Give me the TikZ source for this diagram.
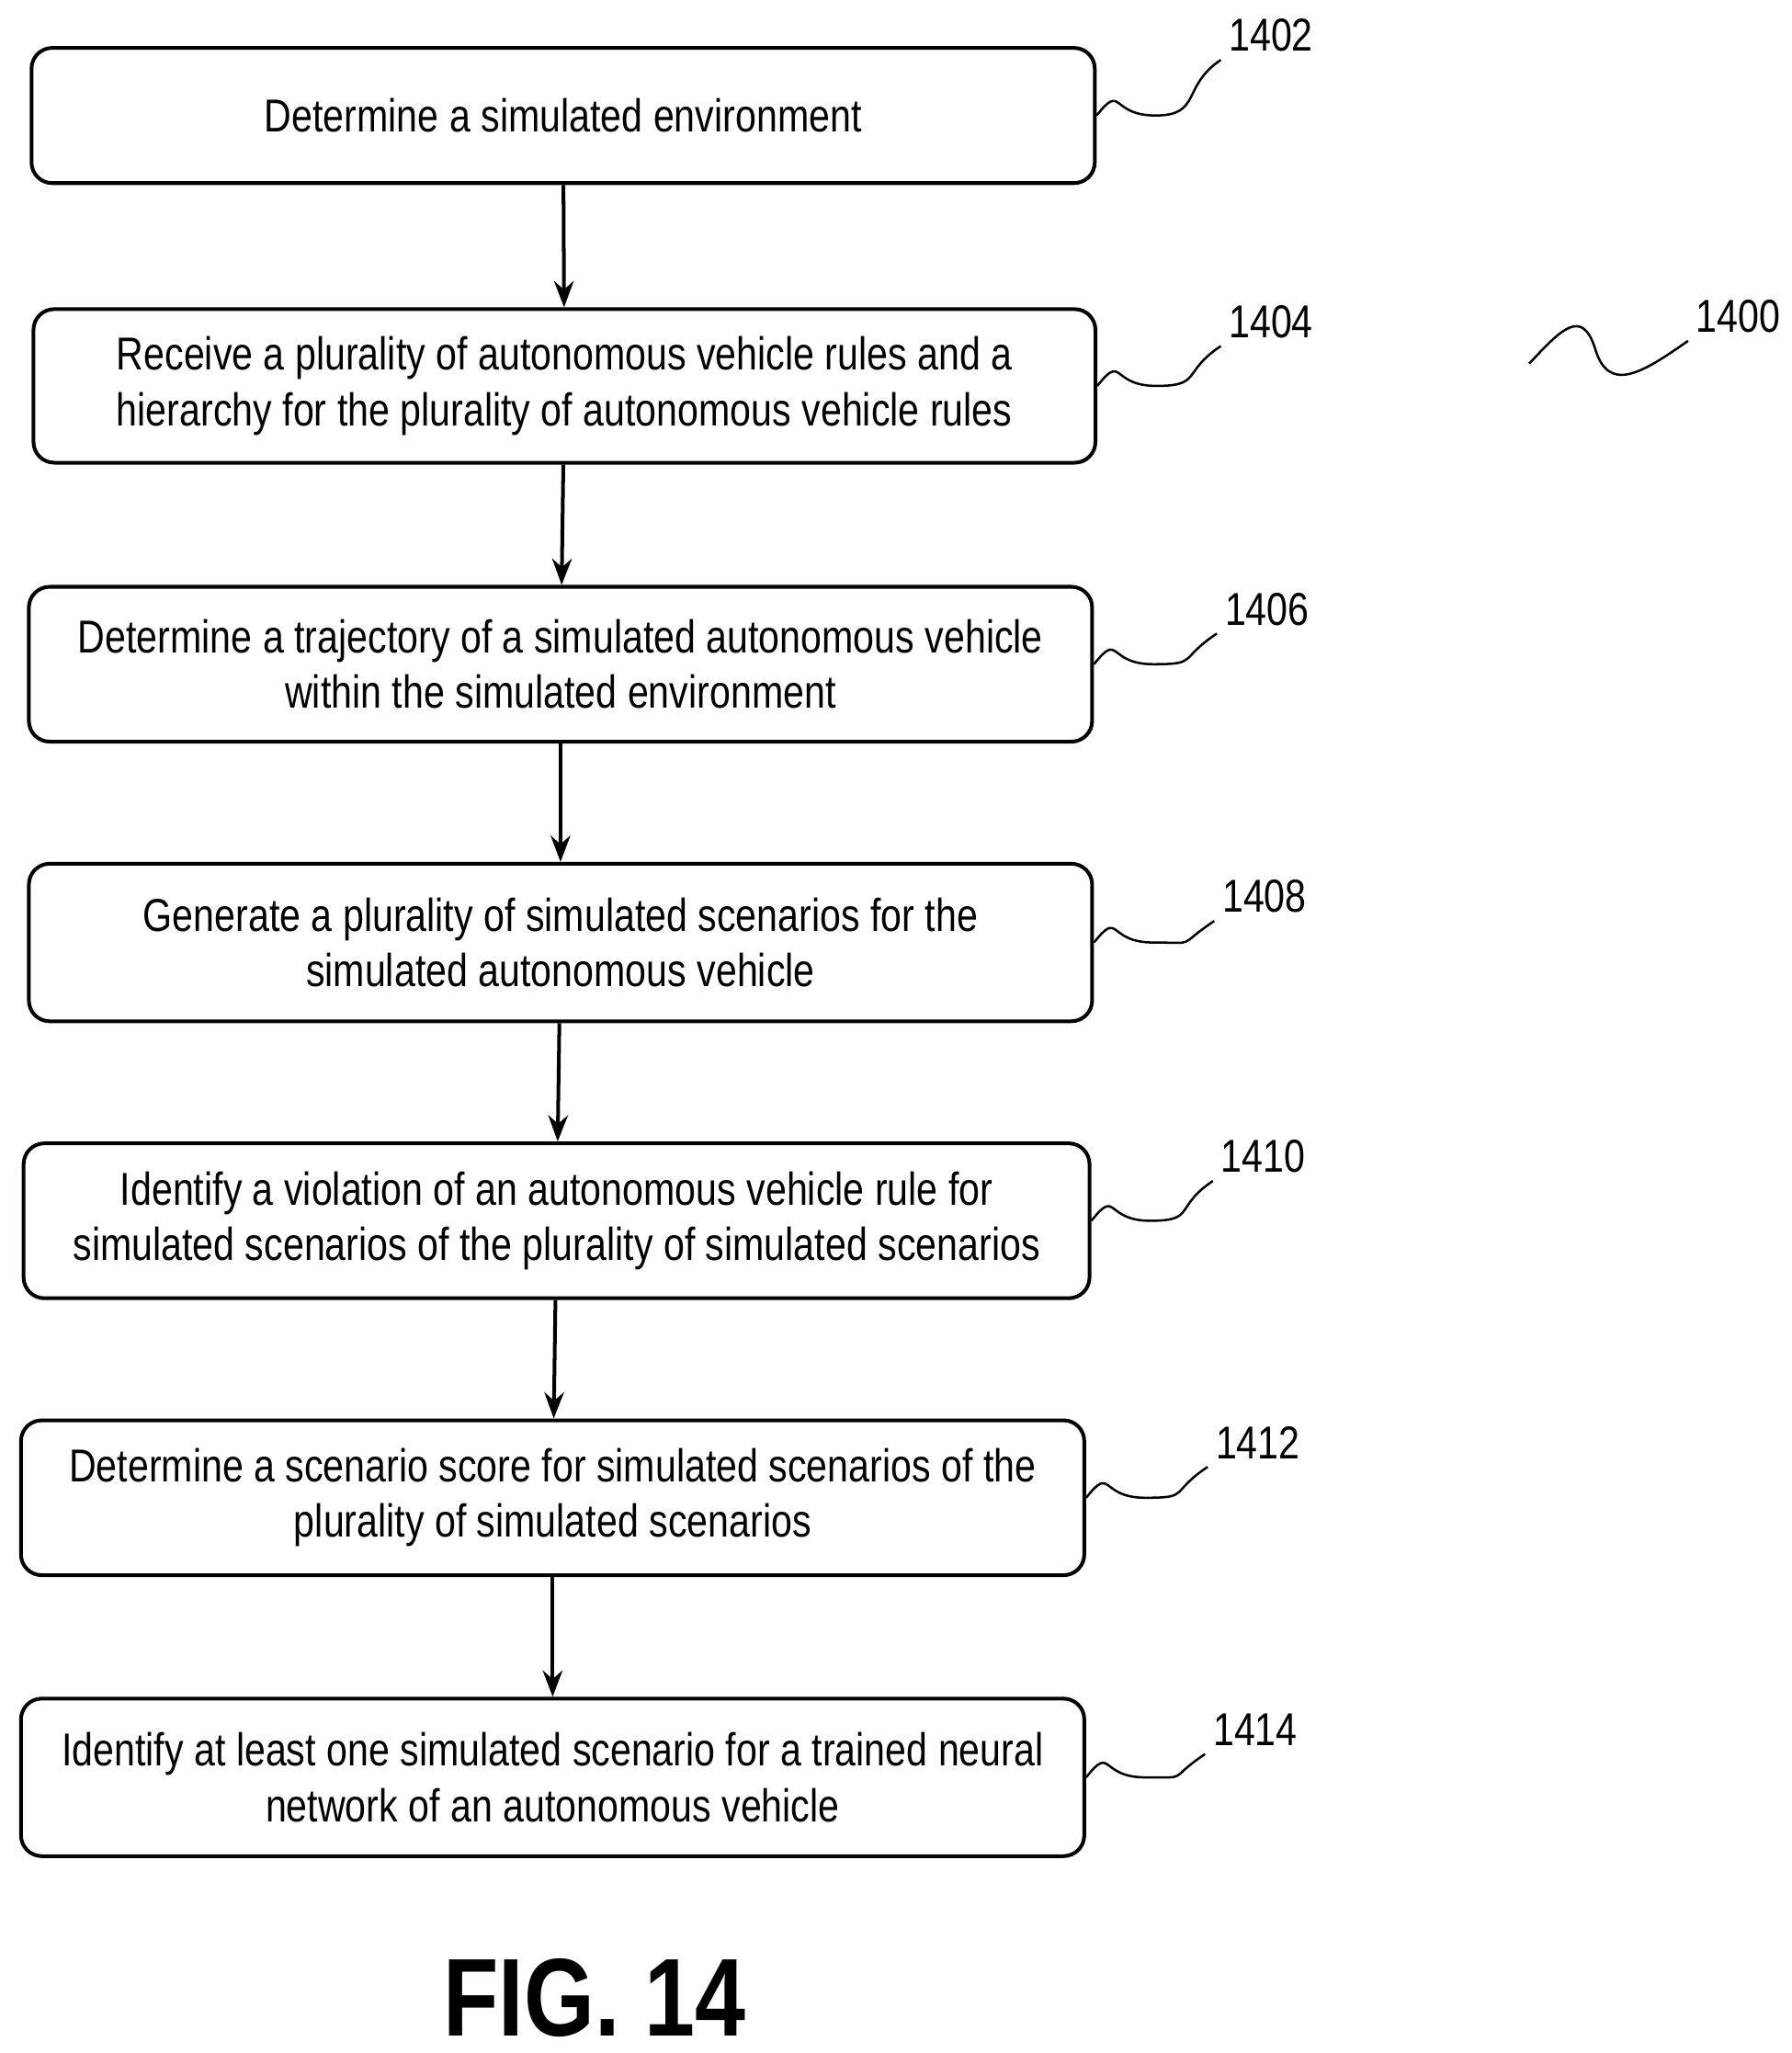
\documentclass[tikz,border=0pt]{standalone}
\usepackage{fontspec}
\setmainfont{Liberation Sans}[FakeStretch=0.82]
\usetikzlibrary{arrows.meta}
\begin{document}
\begin{tikzpicture}[x=0.02cm,y=-0.02cm,
		flowstep/.style={rectangle, draw, line width=1.6pt, rounded corners=9pt, align=center, font=\fontsize{20}{24}\selectfont, inner sep=0pt},
		reflabel/.style={font=\fontsize{20}{24}\selectfont, anchor=west},
		>={Stealth[length=4mm,width=3mm]}
	]
	\useasboundingbox (0,0) rectangle (1365,1564);

	\node[flowstep, minimum width=810*0.02cm, minimum height=103*0.02cm] (s1) at (429,88) {Determine a simulated environment};
	\node[flowstep, minimum width=809*0.02cm, minimum height=117*0.02cm] (s2) at (430,294) {Receive a plurality of autonomous vehicle rules and a\\hierarchy for the plurality of autonomous vehicle rules};
	\node[flowstep, minimum width=810*0.02cm, minimum height=118*0.02cm] (s3) at (427,506) {Determine a trajectory of a simulated autonomous vehicle\\within the simulated environment};
	\node[flowstep, minimum width=810*0.02cm, minimum height=120*0.02cm] (s4) at (427,718) {Generate a plurality of simulated scenarios for the\\simulated autonomous vehicle};
	\node[flowstep, minimum width=812*0.02cm, minimum height=118*0.02cm] (s5) at (424,930) {Identify a violation of an autonomous vehicle rule for\\simulated scenarios of the plurality of simulated scenarios};
	\node[flowstep, minimum width=810*0.02cm, minimum height=118*0.02cm] (s6) at (421,1141) {Determine a scenario score for simulated scenarios of the\\plurality of simulated scenarios};
	\node[flowstep, minimum width=810*0.02cm, minimum height=120*0.02cm] (s7) at (421,1354) {Identify at least one simulated scenario for a trained neural\\network of an autonomous vehicle};

	\foreach \i/\j in {s1/s2, s2/s3, s3/s4, s4/s5, s5/s6, s6/s7}
		\draw[->, line width=1.6pt] (\i) -- (\j);

	% reference numerals
	\foreach \s/\n/\lx/\ly in {s1/1402/930/27, s2/1404/930/245, s3/1406/927/464, s4/1408/925/683, s5/1410/924/881, s6/1412/920/1099, s7/1414/918/1318}
	{
		\node[reflabel] (l\n) at (\lx,\ly) {\n};
		\draw[line width=1pt] (\s.east) .. controls ++(20,-25) and ++(-35,0) .. ++(45,0) .. controls ++(35,0) and ++(-30,20) .. (l\n.south west);
	}
	\node[reflabel] (l1400) at (1286,241) {1400};
	\coordinate (tail) at (1165,277);
	\draw[line width=1pt] (tail) .. controls (1190,250) and (1205,235) .. (1215,265) .. controls (1225,300) and (1250,285) .. (l1400.south west);

	\node[font=\bfseries\fontsize{48}{50}\selectfont] (fig) at (453,1522) {FIG. 14};
\end{tikzpicture}
\end{document}
